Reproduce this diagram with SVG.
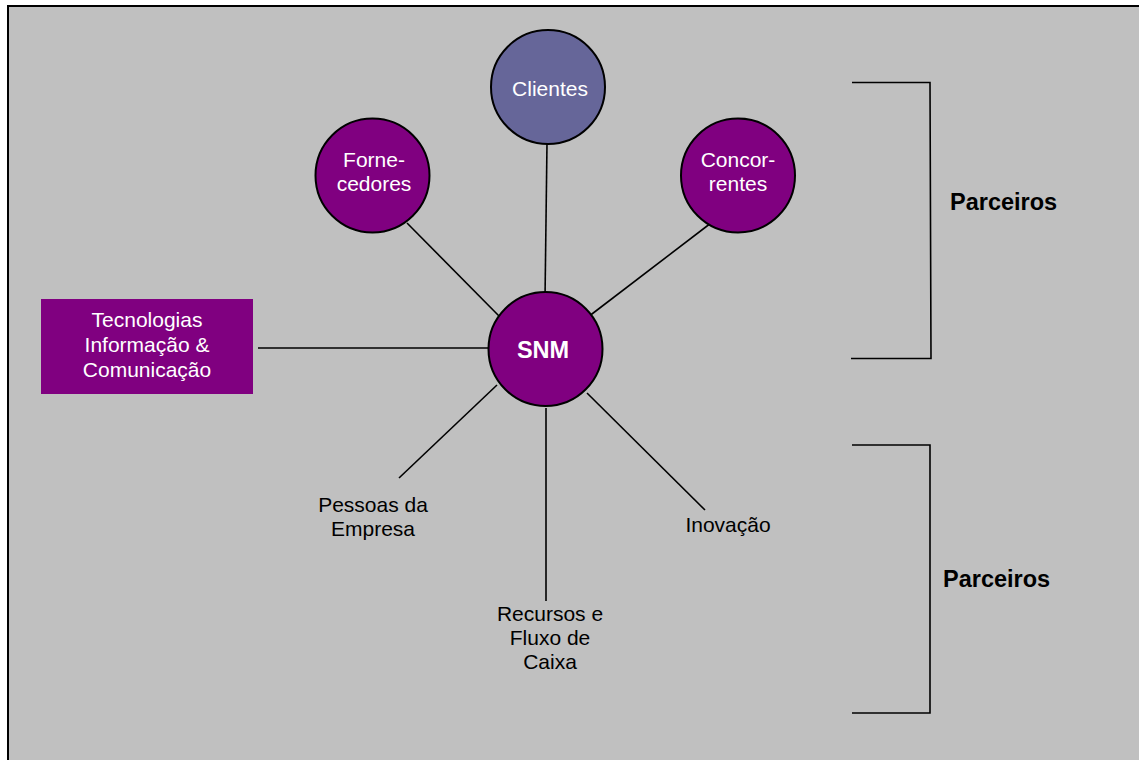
<svg xmlns="http://www.w3.org/2000/svg" width="1139" height="760" viewBox="0 0 1139 760">
<style>
.ln{stroke:#000;stroke-width:1.6;fill:none}
.node{stroke:#000;stroke-width:2}
.wt{fill:#fff;font-family:"Liberation Sans",Arial,sans-serif;font-size:21px;text-anchor:middle}
.bt{fill:#000;font-family:"Liberation Sans",Arial,sans-serif;font-size:21px;text-anchor:middle}
.bold{font-family:"Liberation Sans",Arial,sans-serif;font-weight:bold;font-size:23.5px}
</style>
<rect x="0" y="0" width="1139" height="760" fill="#fff"/>
<rect x="8" y="6" width="1140" height="770" fill="#C0C0C0" stroke="#000" stroke-width="2"/>
<g id="connectors">
<line class="ln" x1="547" y1="143" x2="545" y2="299"/>
<line class="ln" x1="407" y1="223" x2="500" y2="317"/>
<line class="ln" x1="711" y1="223" x2="588" y2="317"/>
<line class="ln" x1="258" y1="348" x2="488" y2="348"/>
<line class="ln" x1="497" y1="385" x2="399" y2="478"/>
<line class="ln" x1="546" y1="408" x2="546" y2="601"/>
<line class="ln" x1="587" y1="393" x2="705" y2="510"/>
</g>
<g id="clientes">
<circle class="node" cx="548" cy="87" r="57" fill="#666699"/>
<text class="wt" x="550" y="96">Clientes</text>
</g>
<g id="fornecedores">
<circle class="node" cx="372.5" cy="175.5" r="57" fill="#800080"/>
<text class="wt" x="374" y="167">Forne-</text>
<text class="wt" x="374" y="191">cedores</text>
</g>
<g id="concorrentes">
<circle class="node" cx="738" cy="175.5" r="57" fill="#800080"/>
<text class="wt" x="738" y="167">Concor-</text>
<text class="wt" x="738" y="191">rentes</text>
</g>
<g id="snm">
<circle class="node" cx="545.5" cy="349" r="57" fill="#800080"/>
<text class="bold" x="543" y="358" fill="#fff" text-anchor="middle">SNM</text>
</g>
<g id="tic">
<rect x="41" y="299" width="212" height="95" fill="#800080"/>
<text class="wt" x="147" y="327">Tecnologias</text>
<text class="wt" x="147" y="352">Informação &amp;</text>
<text class="wt" x="147" y="377">Comunicação</text>
</g>
<g id="pessoas">
<text class="bt" x="373" y="512">Pessoas da</text>
<text class="bt" x="373" y="536">Empresa</text>
</g>
<g id="recursos">
<text class="bt" x="550" y="621">Recursos e</text>
<text class="bt" x="550" y="645">Fluxo de</text>
<text class="bt" x="550" y="669">Caixa</text>
</g>
<g id="inovacao">
<text class="bt" x="728" y="532">Inovação</text>
</g>
<g id="parceiros1">
<polyline class="ln" points="852,82.5 930,82.5 931,358.5 851,358.5"/>
<text class="bold" x="950" y="210" fill="#000">Parceiros</text>
</g>
<g id="parceiros2">
<polyline class="ln" points="852,445 930,445 930,713 852,713"/>
<text class="bold" x="943" y="587" fill="#000">Parceiros</text>
</g>
</svg>
